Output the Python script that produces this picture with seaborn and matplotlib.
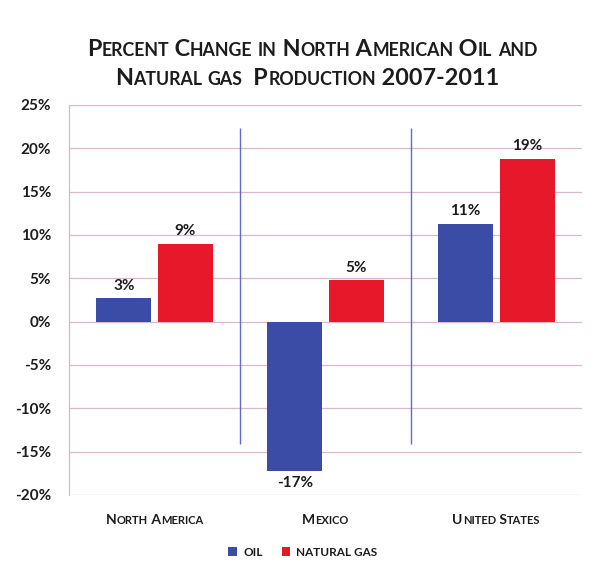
import numpy as np
import pandas as pd
import matplotlib
matplotlib.use("Agg")
import matplotlib.pyplot as plt
import seaborn as sns

# ---------------- data ----------------
regions = ["North America", "Mexico", "United States"]
series_names = ["Oil", "Natural Gas"]
oil_change = [2.7, -17.2, 11.3]
gas_change = [9.0, 4.8, 18.8]
y_ticks = [-20, -15, -10, -5, 0, 5, 10, 15, 20, 25]
title_lines = ["Percent Change in North American Oil and",
               "Natural gas  Production 2007-2011"]

BLUE = "#3b4ca6"
RED = "#e8182b"
GRID = "#dcb6cb"
SEP = "#5d6dcc"
INK = "#1c1c1c"

sns.set_style("white")
plt.rcParams["font.family"] = ["Lato", "DejaVu Sans"]

df = pd.DataFrame({
    "region": regions * 2,
    "series": [series_names[0]] * len(regions) + [series_names[1]] * len(regions),
    "value": oil_change + gas_change,
})

W, H = 605, 574
fig = plt.figure(figsize=(W / 100, H / 100), dpi=100)
ax = fig.add_axes([69 / W, 1 - 495 / H, (582 - 69) / W, (495 - 105) / H])

sns.barplot(data=df, x="region", y="value", hue="series", hue_order=series_names,
            palette=[BLUE, RED], width=0.72, gap=0.11, saturation=1,
            errorbar=None, linewidth=0, ax=ax)

ax.set_xlim(-0.5, len(regions) - 0.5)
ax.set_ylim(y_ticks[0], y_ticks[-1])
ax.set_yticks(y_ticks)
ax.set_yticklabels([f"{t}%" for t in y_ticks])
ax.tick_params(axis="y", length=0, pad=13, labelsize=11, labelcolor=INK)
for lbl in ax.get_yticklabels():
    lbl.set_fontweight("bold")
ax.tick_params(axis="x", length=0, labelbottom=False)
ax.set_xlabel("")
ax.set_ylabel("")
ax.yaxis.grid(True, color=GRID, lw=0.9)
ax.xaxis.grid(False)
ax.set_axisbelow(True)
for s in ["top", "right", "bottom"]:
    ax.spines[s].set_visible(False)
ax.spines["left"].set_color(GRID)
ax.spines["left"].set_linewidth(0.9)

# separators between groups
ax.vlines([0.5, 1.5], -14.1, 22.4, color=SEP, lw=1.0, zorder=1)

# data labels
for cont, vals in zip(ax.containers, [oil_change, gas_change]):
    ax.bar_label(cont, labels=[f"{round(v)}%" for v in vals], padding=4,
                 fontsize=11, fontweight="bold", color=INK)

# legend
handles, labels = ax.get_legend_handles_labels()
ax.get_legend().remove()
leg = fig.legend(handles, [l.upper() for l in labels], loc="center",
                 bbox_to_anchor=(303 / W, 1 - 552 / H), ncol=2, frameon=False,
                 handlelength=0.75, handleheight=0.75, handletextpad=0.5,
                 columnspacing=1.6, prop={"size": 8.5, "weight": "bold"})
for t in leg.get_texts():
    t.set_color(INK)

fig.canvas.draw()
renderer = fig.canvas.get_renderer()


def text_width(s, size):
    t1 = fig.text(0, 0, "|" + s + "|", fontsize=size, fontweight="bold")
    t0 = fig.text(0, 0, "||", fontsize=size, fontweight="bold")
    w = t1.get_window_extent(renderer).width - t0.get_window_extent(renderer).width
    t1.remove()
    t0.remove()
    return w


def smallcaps(text, x_px, y_px, big, small, ha="center"):
    runs = []
    for ch in text:
        sz = small if ch.islower() else big
        c = ch.upper()
        if runs and runs[-1][1] == sz:
            runs[-1][0] += c
        else:
            runs.append([c, sz])
    widths = [text_width(s, sz) for s, sz in runs]
    total = sum(widths)
    x = x_px - total / 2 if ha == "center" else x_px
    for (s, sz), w in zip(runs, widths):
        fig.text(x / W, y_px / H, s, fontsize=sz, fontweight="bold", color=INK,
                 ha="left", va="baseline")
        x += w


# title
smallcaps(title_lines[0], 312, H - 56, 16.8, 12.8)
smallcaps(title_lines[1], 307, H - 85, 16.8, 12.8)

# category labels
for i, name in enumerate(regions):
    px = ax.transData.transform((i, 0))[0]
    smallcaps(name, px, H - 524, 10, 8)

fig.savefig("out.png", dpi=100, facecolor="white")
